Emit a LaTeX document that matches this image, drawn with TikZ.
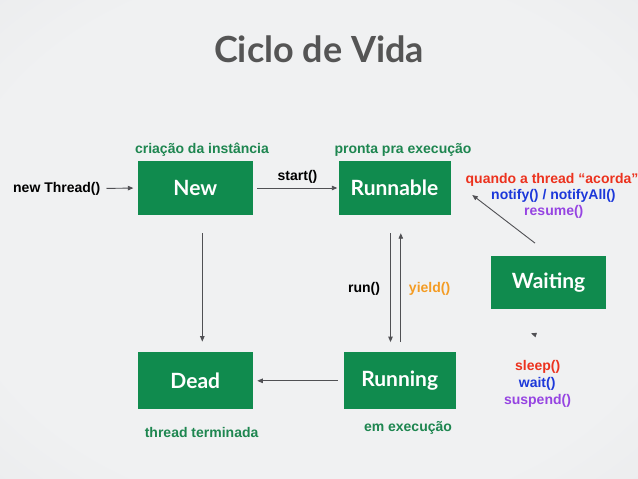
\documentclass[tikz,border=0pt]{standalone}
\usepackage{fontspec}
\setmainfont{Liberation Sans}
\newfontfamily\gillfont{Lato}
\usetikzlibrary{arrows.meta}

\definecolor{bgin}{RGB}{240,241,242}
\definecolor{bgout}{RGB}{218,219,222}
\definecolor{boxgreen}{RGB}{16,139,78}
\definecolor{txtgreen}{RGB}{30,134,80}
\definecolor{titlegrey}{RGB}{85,85,85}
\definecolor{linegrey}{RGB}{80,80,84}
\definecolor{wred}{RGB}{236,50,30}
\definecolor{wblue}{RGB}{28,56,218}
\definecolor{wpurple}{RGB}{150,68,226}
\definecolor{worange}{RGB}{244,156,36}

\pgfdeclareradialshading{bgshade}{\pgfpoint{0bp}{0bp}}{color(0bp)=(bgin); color(28bp)=(bgin); color(72bp)=(bgout)}

\begin{document}
\begin{tikzpicture}[x=1pt,y=-1pt,
  state/.style={fill=boxgreen, text=white, inner sep=0pt,
    font=\gillfont\bfseries\fontsize{21}{24}\selectfont},
  lbl/.style={inner sep=0pt, font=\bfseries\fontsize{14}{16}\selectfont},
  note/.style={lbl, text=txtgreen},
  conn/.style={draw=linegrey, line width=0.9pt,
    -{Triangle[length=5.5pt,width=4.5pt]}}]

% background
\path[shading=bgshade] (0,0) rectangle (638,479);
\useasboundingbox (0,0) rectangle (638,479);

% title
\node[inner sep=0pt, text=titlegrey, font=\gillfont\bfseries\fontsize{36}{40}\selectfont]
  (title) at (319,49) {Ciclo de Vida};

% states
\node[state, minimum width=115.5pt, minimum height=54pt] (new)      at (195.3,188) {New};
\node[state, minimum width=112pt,   minimum height=54pt] (runnable) at (394.5,188) {Runnable};
\node[state, minimum width=115.5pt, minimum height=53.6pt] (waiting) at (548.6,282.5) {Waiting};
\node[state, minimum width=115.5pt, minimum height=57pt] (dead)     at (195.3,380.8) {Dead};
\node[state, minimum width=112pt,   minimum height=57pt] (running)  at (399.7,380.8) {Running};

% state descriptions
\node[note] (descnew)      at (202,150) {criação da instância};
\node[note] (descrunnable) at (403,150) {pronta pra execução};
\node[note] (descdead)     at (201.6,432.5) {thread terminada};
\node[note] (descrunning)  at (408,428) {em execução};

% transition labels
\node[lbl, anchor=east] (newthread) at (100.5,188.5) {new Thread()};
\node[lbl] (start) at (297.5,176.5) {start()};
\node[lbl] (run)   at (364,288.5) {run()};
\node[lbl, text=worange] (yield) at (429.6,288.5) {yield()};

\node[lbl, text=wred]    (wake)   at (552,180) {quando a thread “acorda”};
\node[lbl, text=wblue]   (notify) at (553.4,196) {notify() / notifyAll()};
\node[lbl, text=wpurple] (resume) at (553.8,212) {resume()};

\node[lbl, text=wred]    (sleep)   at (537.7,366.7) {sleep()};
\node[lbl, text=wblue]   (wait)    at (537.2,384) {wait()};
\node[lbl, text=wpurple] (suspend) at (537.5,401) {suspend()};

% transitions
\draw[conn, shorten <=6pt, shorten >=4pt] (newthread.east) -- (new.west);
\draw[conn, shorten <=4pt, shorten >=1pt] (new.east) -- (runnable.west);
\draw[conn, shorten <=18pt, shorten >=10.5pt]
  ([xshift=7pt]new.south) -- ([xshift=7pt]new.south |- dead.north);
\draw[conn, shorten <=18pt, shorten >=10pt]
  ([xshift=-4pt]runnable.south) -- ([xshift=-4pt]runnable.south |- running.north);
\draw[conn, shorten <=10pt, shorten >=18pt]
  ([xshift=6.3pt]runnable.south |- running.north) -- ([xshift=6.3pt]runnable.south);
\draw[conn, shorten <=6pt, shorten >=4pt] (running.west) -- (dead.east);
\draw[conn] ([xshift=-13.6pt,yshift=12.4pt]waiting.north) -- ([xshift=21.6pt,yshift=-7pt]runnable.east);
\draw[conn] ([xshift=-14.6pt,yshift=-24.8pt]waiting.south) -- ([xshift=-17.6pt,yshift=-23.8pt]waiting.south);
\end{tikzpicture}
\end{document}
